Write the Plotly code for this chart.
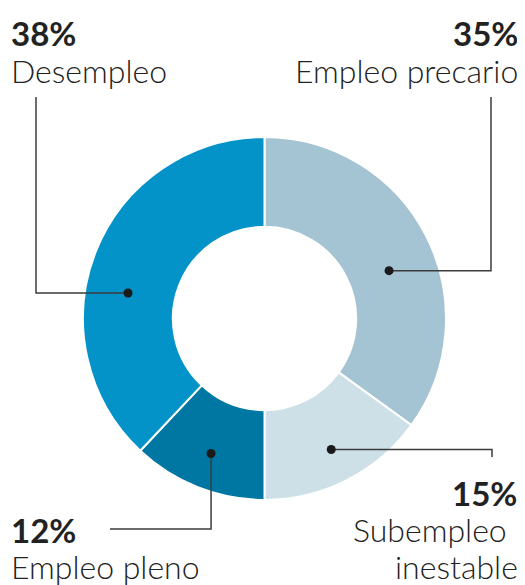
import math
import plotly.graph_objects as go

# ---- data ----
categories = ["Empleo precario", "Subempleo inestable", "Empleo pleno", "Desempleo"]
values = [35, 15, 12, 38]
pct_labels = ["35%", "15%", "12%", "38%"]
label_lines = [["Empleo precario"], ["Subempleo", "inestable"], ["Empleo pleno"], ["Desempleo"]]
colors = ["#a4c3d3", "#cddfe7", "#0077a3", "#0393c9"]

W, H = 525, 585
OFF = 8  # page body margin
FW, FH = W - OFF, H - OFF
cx, cy, R = 264.5, 318.5, 181.5
hole = 0.505

def px(x):
    return (x - OFF) / FW

def py(y):
    return 1 - (y - OFF) / FH

fig = go.Figure()
fig.add_trace(go.Pie(
    values=values, labels=categories, sort=False, direction="clockwise", rotation=0,
    hole=hole, textinfo="none", hoverinfo="label+percent",
    marker=dict(colors=colors, line=dict(color="white", width=2)),
    domain=dict(x=[px(cx - R), px(cx + R)], y=[py(cy + R), py(cy - R)]),
    showlegend=False,
))

# dot anchors: angle offset from slice midpoint (deg) and radius as fraction of R
offsets = [6, 0, 0, -11]
rfrac = [0.735, 0.81, 0.80, 0.765]
cum = 0
dots = []
for v, off, rf in zip(values, offsets, rfrac):
    a = math.radians((cum + v / 2) / sum(values) * 360 + off)
    dots.append((cx + R * rf * math.sin(a), cy - R * rf * math.cos(a)))
    cum += v

line_col = "#3c3c3c"
lw = 1.5
shapes = []
def path(pts):
    d = "M " + " L ".join(f"{x},{y}" for x, y in pts)
    shapes.append(dict(type="path", path=d, xref="x", yref="y", line=dict(color=line_col, width=lw)))

dx, dy = dots[0]; path([(dx, dy), (491, dy), (491, 97)])
dx, dy = dots[1]; path([(dx, dy), (492, dy), (492, 457)])
dx, dy = dots[2]; path([(dx, dy), (dx, 529), (110, 529)])
dx, dy = dots[3]; path([(dx, dy), (36, dy), (36, 97)])

for x, y in dots:
    r = 4.5
    shapes.append(dict(type="circle", xref="x", yref="y", x0=x - r, x1=x + r, y0=y - r, y1=y + r,
                       fillcolor="#1a1a1a", line=dict(width=0)))

FONT = "Lato"
ann = []
def txt(s, x, y, anchor, bold):
    ann.append(dict(text=s, x=x, y=y, xref="x", yref="y", xanchor=anchor, yanchor="middle",
                    showarrow=False,
                    font=dict(family=FONT, size=33 if bold else 32, color="#222222",
                              weight=700 if bold else 300)))

txt(pct_labels[0], 520, 33, "right", True)
txt(label_lines[0][0], 520, 70, "right", False)
txt(pct_labels[3], 9, 33, "left", True)
txt(label_lines[3][0], 9, 70, "left", False)
txt(pct_labels[1], 519, 493, "right", True)
txt(label_lines[1][0], 509, 529, "right", False)
txt(label_lines[1][1], 520, 566, "right", False)
txt(pct_labels[2], 9, 530, "left", True)
txt(label_lines[2][0], 9, 566, "left", False)

fig.update_layout(
    width=FW, height=FH, margin=dict(l=0, r=0, t=0, b=0),
    paper_bgcolor="white", plot_bgcolor="rgba(0,0,0,0)",
    xaxis=dict(range=[OFF, W], visible=False, fixedrange=True),
    yaxis=dict(range=[H, OFF], visible=False, fixedrange=True),
    shapes=shapes, annotations=ann,
)
fig.write_html("out.html")
